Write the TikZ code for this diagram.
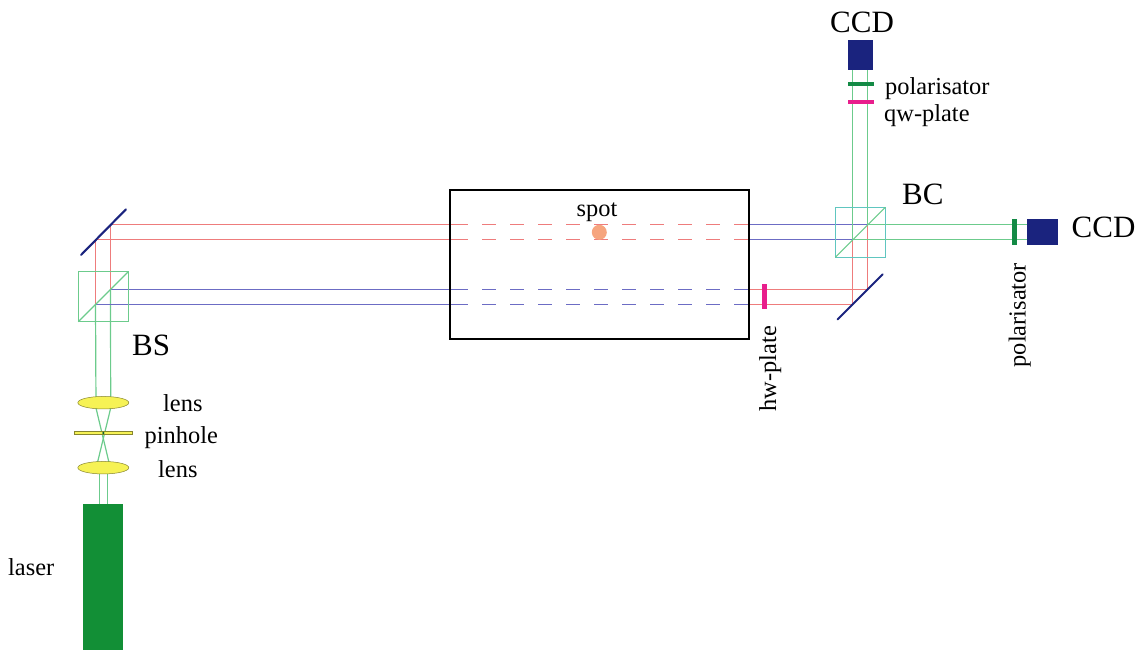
\documentclass[tikz,border=0pt]{standalone}
\usepackage{fontspec}
\setmainfont{Liberation Serif}
\definecolor{beamred}{HTML}{EE7C7C}
\definecolor{beamblue}{HTML}{6C6CC4}
\definecolor{beamgreen}{HTML}{6CCB8C}
\definecolor{cubeteal}{HTML}{60C6C0}
\definecolor{navy}{HTML}{1A237E}
\definecolor{lasergreen}{HTML}{128F36}
\definecolor{polgreen}{HTML}{138A45}
\definecolor{plateRed}{HTML}{E81E8C}
\definecolor{lensyellow}{HTML}{F6F255}
\definecolor{spotc}{HTML}{F6A57E}
\tikzset{
  red beam/.style={draw=beamred,line width=1.2pt},
  blue beam/.style={draw=beamblue,line width=1.2pt},
  green beam/.style={draw=beamgreen,line width=1.2pt},
  dash beam/.style={dash pattern=on 14pt off 14pt},
  comp/.style={rectangle,inner sep=0pt,outer sep=0pt,minimum width=#1},
  cube/.style={rectangle,draw=beamgreen,line width=1.2pt,inner sep=0pt,outer sep=0pt,minimum size=50pt},
  lensn/.style={ellipse,draw=black!45!lensyellow,line width=0.5pt,fill=lensyellow,inner sep=0pt,minimum width=51pt,minimum height=12.5pt},
  mirror/.style={draw=navy,line width=2.1pt,line cap=round},
  small label/.style={font=\fontsize{24.4}{28}\selectfont,inner sep=0pt,anchor=base west},
  big label/.style={font=\fontsize{31}{36}\selectfont,inner sep=0pt,anchor=base west},
}
\usetikzlibrary{shapes.geometric}
\begin{document}
\begin{tikzpicture}[x=1pt,y=-1pt]
\useasboundingbox (0,0) rectangle (1143,650);
% named beam points
\coordinate (mLa) at (95.5,239.5);
\coordinate (mLb) at (110.5,224.5);
\coordinate (bsA) at (95.5,304.3);
\coordinate (bsB) at (110.5,289.3);
\coordinate (l1a) at (96,408);
\coordinate (l1b) at (110.7,408);
\coordinate (l2a) at (97.5,462.5);
\coordinate (l2b) at (109,462.5);
\coordinate (l3a) at (99.3,473);
\coordinate (l3b) at (107.3,473);
\coordinate (lsa) at (99.3,504);
\coordinate (lsb) at (107.3,504);
\coordinate (inT) at (454,224.5);
\coordinate (inB) at (454,239.5);
\coordinate (inC) at (454,289.3);
\coordinate (inD) at (454,304.3);
\coordinate (outT) at (749,224.5);
\coordinate (outB) at (749,239.5);
\coordinate (outC) at (749,289.3);
\coordinate (outD) at (749,304.3);
\coordinate (bcA) at (867.7,224.5);
\coordinate (bcB) at (852.7,239.5);
\coordinate (mRa) at (867.7,289.3);
\coordinate (mRb) at (852.7,304.3);
\coordinate (topA) at (867.7,70);
\coordinate (topB) at (852.7,70);
\coordinate (rgtA) at (1027,224.5);
\coordinate (rgtB) at (1027,239.5);
% beams
\draw[green beam] (bsA) -- (l1a);
\draw[green beam] (bsB) -- (l1b);
\draw[green beam] (l1a) -- (l2b);
\draw[green beam] (l1b) -- (l2a);
\draw[green beam] (l3a) -- (lsa);
\draw[green beam] (l3b) -- (lsb);
\draw[red beam] (bsA) -- (mLa) -- (inB);
\draw[red beam] (bsB) -- (mLb) -- (inT);
\draw[blue beam] (bsB) -- (inC);
\draw[blue beam] (bsA) -- (inD);
\draw[red beam,dash beam] (inT) -- (outT);
\draw[red beam,dash beam] (inB) -- (outB);
\draw[blue beam,dash beam] (inC) -- (outC);
\draw[blue beam,dash beam] (inD) -- (outD);
\draw[blue beam] (outT) -- (bcA);
\draw[blue beam] (outB) -- (bcB);
\draw[red beam] (outC) -- (mRa) -- (bcA);
\draw[red beam] (outD) -- (mRb) -- (bcB);
\draw[green beam] (bcA) -- (topA);
\draw[green beam] (bcB) -- (topB);
\draw[green beam] (bcA) -- (rgtA);
\draw[green beam] (bcB) -- (rgtB);
% cubes
\node[cube] (BS) at (103.3,296.7) {};
\draw[green beam] (BS.south west) -- (BS.north east);
\node[cube,draw=cubeteal] (BC) at (860.3,232.3) {};
\draw[green beam] (BC.south west) -- (BC.north east);
% mirrors
\coordinate (m1s) at (81,255);
\coordinate (m1e) at (126,209.3);
\coordinate (m2s) at (837.7,319.3);
\coordinate (m2e) at (882.7,274.3);
\draw[mirror] (m1s) -- (m1e);
\draw[mirror] (m2s) -- (m2e);
% main box
\node[rectangle,draw=black,line width=2pt,inner sep=0pt,minimum width=299.3pt,minimum height=149pt] (cell) at (599.6,264.5) {};
\node[circle,fill=spotc,inner sep=0pt,minimum size=15pt] (spotdot) at (599.3,232.3) {};
% laser line optics
\node[comp=40pt,fill=lasergreen,minimum height=146.5pt] (laser) at (103.3,576.9) {};
\node[lensn] (lens1) at (103.3,402.7) {};
\node[lensn] (lens2) at (103.3,467.7) {};
\node[comp=58.7pt,fill=lensyellow,draw=black!45!lensyellow,line width=0.5pt,minimum height=3.4pt] (pin) at (103.3,433) {};
\node[circle,fill=polgreen!70!black,inner sep=0pt,minimum size=2.5pt] (pinhole) at (103.3,433) {};
% plates and detectors
\node[comp=4.6pt,fill=plateRed,minimum height=25pt] (hw) at (764.3,296.8) {};
\node[comp=25.3pt,fill=navy,minimum height=30.3pt] (ccdT) at (860.3,55.2) {};
\node[comp=25.7pt,fill=polgreen,minimum height=4pt] (polT) at (860.8,84.3) {};
\node[comp=25.7pt,fill=plateRed,minimum height=3.7pt] (qw) at (860.8,101.9) {};
\node[comp=4.6pt,fill=polgreen,minimum height=25.4pt] (polR) at (1014.7,232) {};
\node[comp=30.7pt,fill=navy,minimum height=25.4pt] (ccdR) at (1042.3,232) {};
% labels
\node[big label] (tCCDT) at (830,33) {CCD};
\node[big label] (tCCDR) at (1071.5,237.7) {CCD};
\node[big label] (tBC) at (902,204) {BC};
\node[big label] (tBS) at (132,355) {BS};
\node[small label] (tpolT) at (885,94.3) {polarisator};
\node[small label] (tqw) at (884,122) {qw-plate};
\node[small label] (tspot) at (576.5,216) {spot};
\node[small label] (tl1) at (163,411.7) {lens};
\node[small label] (tpin) at (144.5,443.5) {pinhole};
\node[small label] (tl2) at (158,477.7) {lens};
\node[small label] (tlaser) at (8,575) {laser};
\node[small label,rotate=90] (thw) at (776,411.5) {hw-plate};
\node[small label,rotate=90] (tpolR) at (1025.5,367.5) {polarisator};
\end{tikzpicture}
\end{document}
